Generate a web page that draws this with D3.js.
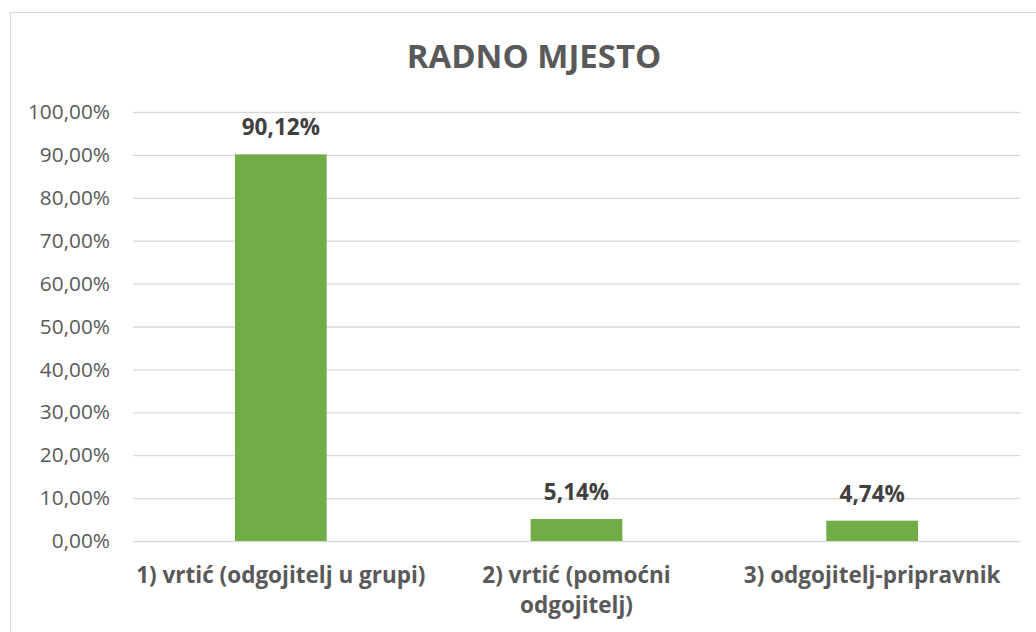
<!DOCTYPE html>
<html>
<head>
<meta charset="utf-8">
<script src="https://cdn.jsdelivr.net/npm/d3@7"></script>
<style>
  body { margin: 0; background: #fff; }
  text { font-family: "Open Sans", sans-serif; }
</style>
</head>
<body>
<div id="chart"></div>
<script>
const categories = ['1) vrtić (odgojitelj u grupi)', '2) vrtić (pomoćni odgojitelj)', '3) odgojitelj-pripravnik']
const values = [0.9012, 0.0514, 0.0474]
const yTicks = [0, 0.1, 0.2, 0.3, 0.4, 0.5, 0.6, 0.7, 0.8, 0.9, 1.0]
const title = 'RADNO MJESTO'

const svgWidth = 1036
const svgHeight = 632

const margin = { left: 133, right: 16, top: 112, bottom: 91 }
const width = svgWidth - margin.left - margin.right
const height = svgHeight - margin.top - margin.bottom

const fmt = v => d3.format('.2f')(v * 100).replace('.', ',') + '%'

const root = d3.select('#chart')
    .append('svg')
    .attr('width', svgWidth)
    .attr('height', svgHeight)

// chart border (only top/left visible in the crop)
root.append('rect')
    .attr('x', 10.5)
    .attr('y', 12.5)
    .attr('width', 1040)
    .attr('height', 640)
    .attr('fill', 'none')
    .attr('stroke', '#d9d9d9')

root.append('text')
    .text(title)
    .attr('x', 534)
    .attr('y', 68)
    .attr('text-anchor', 'middle')
    .attr('font-size', 33)
    .attr('font-weight', 'bold')
    .attr('fill', '#595959')

const svg = root.append('g')
    .attr('transform', `translate(${margin.left},${margin.top})`)

const xScale = d3.scaleBand()
    .domain(categories)
    .range([0, width])
    .paddingInner(0.69)
    .paddingOuter(0.345)

const yScale = d3.scaleLinear()
    .domain([0, 1])
    .range([height, 0])

// grid
const yAxis = d3.axisLeft(yScale)
    .tickValues(yTicks)
    .tickSize(-width)
    .tickFormat(fmt)

svg.append('g')
    .attr('class', 'y axis-grid')
    .call(yAxis)
    .call(g => g.select('.domain').remove())
    .call(g => g.selectAll('line').attr('stroke', '#d9d9d9').attr('stroke-width', 1.3))
    .call(g => g.selectAll('text')
        .attr('x', -23)
        .attr('font-size', 20.8)
        .attr('font-family', '"Open Sans", sans-serif')
        .attr('fill', '#595959'))

// bars
svg.selectAll('.bar')
    .data(values)
    .join('rect')
    .attr('class', 'bar')
    .attr('x', (d, i) => xScale(categories[i]))
    .attr('width', xScale.bandwidth())
    .attr('y', d => yScale(d))
    .attr('height', d => height - yScale(d))
    .attr('fill', '#70ad47')

// data labels
svg.selectAll('.label')
    .data(values)
    .join('text')
    .attr('class', 'label')
    .text(d => fmt(d))
    .attr('x', (d, i) => xScale(categories[i]) + xScale.bandwidth() / 2)
    .attr('y', d => yScale(d) - 19)
    .attr('text-anchor', 'middle')
    .attr('font-size', 22.5)
    .attr('font-weight', 'bold')
    .attr('fill', '#404040')

// category labels, wrapped like the original
const wrapped = [
    ['1) vrtić (odgojitelj u grupi)'],
    ['2) vrtić (pomoćni', 'odgojitelj)'],
    ['3) odgojitelj-pripravnik']
]

svg.selectAll('.cat')
    .data(categories)
    .join('text')
    .attr('class', 'cat')
    .attr('x', d => xScale(d) + xScale.bandwidth() / 2)
    .attr('y', height + 42)
    .attr('text-anchor', 'middle')
    .attr('font-size', 22.5)
    .attr('font-weight', 'bold')
    .attr('fill', '#595959')
    .each(function (d, i) {
        d3.select(this).selectAll('tspan')
            .data(wrapped[i])
            .join('tspan')
            .attr('x', xScale(d) + xScale.bandwidth() / 2)
            .attr('dy', (t, j) => j === 0 ? 0 : 30)
            .text(t => t)
    })
</script>
</body>
</html>
